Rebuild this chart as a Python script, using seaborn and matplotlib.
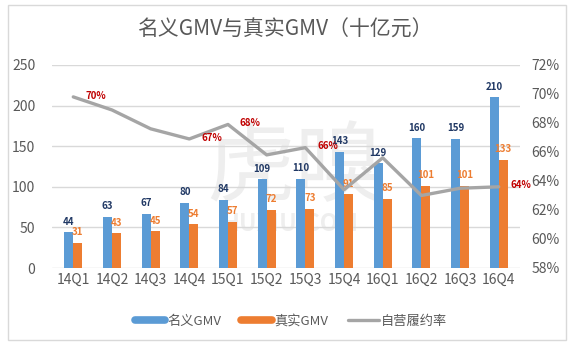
import numpy as np
import pandas as pd
import seaborn as sns
import matplotlib.pyplot as plt
from matplotlib.lines import Line2D
from matplotlib.patches import Rectangle

# Data
quarters = ['14Q1', '14Q2', '14Q3', '14Q4', '15Q1', '15Q2',
            '15Q3', '15Q4', '16Q1', '16Q2', '16Q3', '16Q4']
nominal_gmv = [44, 63, 67, 80, 84, 109, 110, 143, 129, 160, 159, 210]
real_gmv = [31, 43, 45, 54, 57, 72, 73, 91, 85, 101, 101, 133]
fulfil_rate = [69.8, 68.9, 67.6, 66.9, 67.9, 65.8, 66.3, 63.4, 65.6, 63.0, 63.5, 63.6]
rate_label_idx = [0, 3, 4, 6, 11]

series_names = ['名义GMV', '真实GMV', '自营履约率']
blue, orange, gray = '#5B9BD5', '#ED7D31', '#A5A5A5'

df = pd.DataFrame({
    'quarter': quarters * 2,
    'gmv': nominal_gmv + real_gmv,
    'type': [series_names[0]] * len(quarters) + [series_names[1]] * len(quarters),
})

sns.set_style('white')
plt.rcParams['font.family'] = ['Noto Sans CJK SC', 'DejaVu Sans']

fig = plt.figure(figsize=(5.8, 3.51), dpi=100)
fig.patches.append(Rectangle((8 / 580, 1 - 340 / 351), (566 - 8) / 580, (340 - 5) / 351,
                             transform=fig.transFigure, fill=False,
                             edgecolor='#D9D9D9', lw=1))
ax = fig.add_axes([52 / 580, 1 - 268 / 351, (520 - 52) / 580, (268 - 65) / 351])
ax.patch.set_alpha(0)

# faint watermark behind everything
fig.text(295 / 580, 1 - 170 / 351, '虎嗅', fontsize=64, color='#EEEEEE',
         ha='center', va='center', zorder=-5)
fig.text(290 / 580, 1 - 224 / 351, 'HUXIU.COM', fontsize=17, color='#EEEEEE',
         fontweight='bold', ha='center', va='center', zorder=-5)

sns.barplot(data=df, x='quarter', y='gmv', hue='type', palette=[blue, orange],
            width=0.47, saturation=1, linewidth=0, ax=ax, legend=False, zorder=2)

for container, col in zip(ax.containers, ['#203864', orange]):
    ax.bar_label(container, padding=4, fontsize=7, fontweight='bold', color=col)

ax.set_ylim(0, 250)
ax.set_yticks(range(0, 251, 50))
ax.grid(axis='y', color='#D9D9D9', lw=1)
ax.set_axisbelow(True)
ax.set_xlabel('')
ax.set_ylabel('')
ax.set_xlim(-0.55, len(quarters) - 0.45)
for s in ax.spines.values():
    s.set_visible(False)
ax.tick_params(axis='both', colors='#595959', labelsize=10, length=0)
ax.tick_params(axis='y', pad=12)

ax2 = ax.twinx()
sns.lineplot(x=np.arange(len(quarters)), y=fulfil_rate, color=gray, lw=2.4, ax=ax2, zorder=3)
ax2.set_ylim(58, 72)
ax2.set_yticks(range(58, 73, 2))
ax2.set_yticklabels([f'{t}%' for t in range(58, 73, 2)])
for s in ax2.spines.values():
    s.set_visible(False)
ax2.tick_params(axis='y', colors='#595959', labelsize=10, length=0, pad=8)
for i in rate_label_idx:
    ax2.annotate(f'{fulfil_rate[i]:.0f}%', (i, fulfil_rate[i]), xytext=(16, 1),
                 textcoords='offset points', ha='center', va='center',
                 fontsize=7, fontweight='bold', color='#C00000')

fig.text(285 / 580, 1 - 30 / 351, '名义GMV与真实GMV（十亿元）', ha='center', va='center',
         fontsize=15, color='#595959')

handles = [Line2D([], [], color=blue, lw=5.5),
           Line2D([], [], color=orange, lw=5.5),
           Line2D([], [], color=gray, lw=2.4)]
fig.legend(handles, series_names, loc='center', bbox_to_anchor=(291 / 580, 1 - 321 / 351),
           ncol=3, frameon=False, fontsize=9.5, handlelength=2.3, columnspacing=1.5,
           handletextpad=0.2, labelcolor='#595959')

plt.savefig('out.png', dpi=100)
